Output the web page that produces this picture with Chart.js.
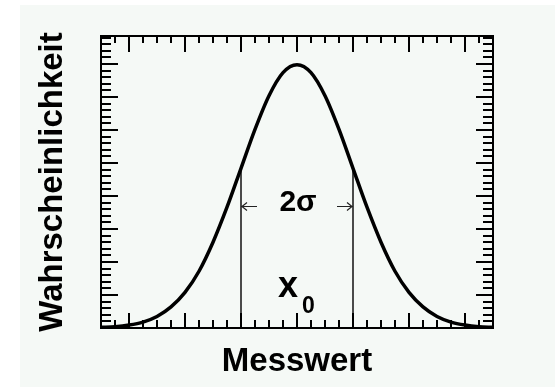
<!DOCTYPE html>
<html>
<head>
<meta charset="utf-8">
<script src="https://cdn.jsdelivr.net/npm/chart.js@4"></script>
<style>
html, body { margin: 0; padding: 0; background: #fff; }
#wrap { position: absolute; left: 20px; top: 5px; width: 535px; height: 382px; background: #f5f9f6; }
canvas { display: block; }
</style>
</head>
<body>
<div id="wrap"><canvas id="chart" width="535" height="382"></canvas></div>
<script>
// Messwert in Einheiten von sigma, Dichte
const xValues = [-3.5, -3.25, -3, -2.75, -2.5, -2.25, -2, -1.75, -1.5, -1.25, -1, -0.75, -0.5, -0.25,
  0, 0.25, 0.5, 0.75, 1, 1.25, 1.5, 1.75, 2, 2.25, 2.5, 2.75, 3, 3.25, 3.5];
const yValues = [0.001, 0.002, 0.0045, 0.009, 0.0175, 0.032, 0.054, 0.086, 0.13, 0.183, 0.242, 0.301, 0.352, 0.387,
  0.399, 0.387, 0.352, 0.301, 0.242, 0.183, 0.13, 0.086, 0.054, 0.032, 0.0175, 0.009, 0.0045, 0.002, 0.001];

// sigma-Linien, Pfeile und Beschriftung
const sigmaX = [-1, 1];
const sigmaY = 0.242;
const arrowY = 0.185;
const sigmaLabelY = 0.177;
const sigmaLabel = '2σ';
const centerX = 0;
const centerLabel = ['x', '0'];

// Achsen
const xRange = [-3.5, 3.5];
const yRange = [0, 0.4425];
const xMinor = 0.25, xMajor = 1;
const yMinor = 0.01, yMajor = 0.05;
const xTitle = 'Messwert';
const yTitle = 'Wahrscheinlichkeit';

const FONT = 'Liberation Sans';

function isMajor(v, step) {
  const r = v / step;
  return Math.abs(r - Math.round(r)) < 1e-6;
}

const frameTicks = {
  id: 'frameTicks',
  afterDatasetsDraw(chart) {
    const { ctx, chartArea: a, scales: { x, y } } = chart;
    ctx.save();
    ctx.strokeStyle = '#000';
    ctx.lineWidth = 2;
    ctx.strokeRect(a.left, a.top, a.right - a.left, a.bottom - a.top);

    ctx.beginPath();
    const nx = Math.round((xRange[1] - xRange[0]) / xMinor);
    for (let i = 0; i <= nx; i++) {
      const v = xRange[0] + i * xMinor;
      const px = Math.round(x.getPixelForValue(v));
      const major = isMajor(v, xMajor);
      ctx.moveTo(px, a.top);
      ctx.lineTo(px, a.top + (major ? 16 : 7));
      ctx.moveTo(px, a.bottom);
      ctx.lineTo(px, a.bottom - (major ? 15 : 8));
    }
    const ny = Math.floor((yRange[1] - yRange[0]) / yMinor + 1e-6);
    for (let i = 0; i <= ny; i++) {
      const v = yRange[0] + i * yMinor;
      const py = Math.round(y.getPixelForValue(v));
      const major = isMajor(v, yMajor);
      ctx.moveTo(a.left, py);
      ctx.lineTo(a.left + (major ? 17 : 10), py);
      ctx.moveTo(a.right, py);
      ctx.lineTo(a.right - (major ? 17 : 10), py);
    }
    ctx.stroke();

    // Pfeile zwischen den sigma-Linien
    const ay = Math.round(y.getPixelForValue(arrowY)) + 0.5;
    const lx = x.getPixelForValue(sigmaX[0]);
    const rx = x.getPixelForValue(sigmaX[1]);
    ctx.lineWidth = 1.2;
    ctx.strokeStyle = '#222';
    ctx.beginPath();
    ctx.moveTo(lx, ay); ctx.lineTo(lx + 16, ay);
    ctx.moveTo(lx + 6, ay - 4); ctx.lineTo(lx + 1, ay); ctx.lineTo(lx + 6, ay + 4);
    ctx.moveTo(rx, ay); ctx.lineTo(rx - 16, ay);
    ctx.moveTo(rx - 6, ay - 4); ctx.lineTo(rx - 1, ay); ctx.lineTo(rx - 6, ay + 4);
    ctx.stroke();

    // Beschriftungen
    ctx.fillStyle = '#000';
    ctx.textBaseline = 'alphabetic';
    ctx.textAlign = 'center';
    ctx.font = 'bold 30px "' + FONT + '"';
    ctx.fillText(sigmaLabel, x.getPixelForValue(centerX) + 1, y.getPixelForValue(sigmaLabelY));

    const cx = x.getPixelForValue(centerX);
    const by = y.getPixelForValue(0);
    ctx.textAlign = 'left';
    ctx.font = 'bold 36px "' + FONT + '"';
    ctx.fillText(centerLabel[0], cx - 19, by - 31);
    ctx.font = 'bold 23px "' + FONT + '"';
    ctx.fillText(centerLabel[1], cx + 5, by - 15);
    ctx.restore();
  }
};

new Chart(document.getElementById('chart'), {
  type: 'line',
  data: {
    datasets: [
      {
        data: xValues.map((v, i) => ({ x: v, y: yValues[i] })),
        borderColor: '#000',
        borderWidth: 3.5,
        pointRadius: 0,
        cubicInterpolationMode: 'monotone',
        order: 0
      },
      {
        data: [{ x: sigmaX[0], y: 0 }, { x: sigmaX[0], y: sigmaY }],
        borderColor: '#111',
        borderWidth: 1.5,
        pointRadius: 0,
        order: 1
      },
      {
        data: [{ x: sigmaX[1], y: 0 }, { x: sigmaX[1], y: sigmaY }],
        borderColor: '#111',
        borderWidth: 1.5,
        pointRadius: 0,
        order: 1
      }
    ]
  },
  options: {
    responsive: false,
    animation: false,
    layout: { padding: { top: 31, right: 62, left: 0, bottom: 0 } },
    plugins: { legend: { display: false }, tooltip: { enabled: false } },
    scales: {
      x: {
        type: 'linear',
        min: xRange[0],
        max: xRange[1],
        ticks: { display: false, stepSize: xMinor },
        grid: { display: false, drawTicks: false },
        border: { display: false },
        title: {
          display: true,
          text: xTitle,
          color: '#000',
          font: { family: FONT, size: 33, weight: 'bold' },
          padding: { top: 13.7, bottom: 5.7 }
        }
      },
      y: {
        type: 'linear',
        min: yRange[0],
        max: yRange[1],
        ticks: { display: false, stepSize: yMinor },
        grid: { display: false, drawTicks: false },
        border: { display: false },
        title: {
          display: true,
          text: yTitle,
          color: '#000',
          font: { family: FONT, size: 33, weight: 'bold' },
          padding: { top: 13, bottom: 28.4 }
        }
      }
    }
  },
  plugins: [frameTicks]
});
</script>
</body>
</html>
